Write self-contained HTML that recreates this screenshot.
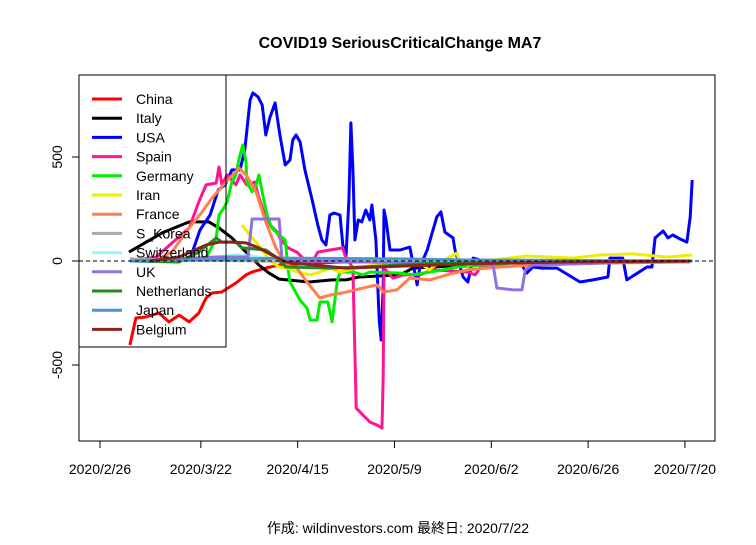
<!DOCTYPE html>
<html><head><meta charset="utf-8"><style>
body{margin:0;background:#fff;}
svg text{font-family:"Liberation Sans","Noto Sans CJK JP",sans-serif;}
</style></head><body>
<svg id="chart" width="756" height="540" xmlns="http://www.w3.org/2000/svg">
<rect width="756" height="540" fill="#fff"/>
<text x="400" y="48" text-anchor="middle" font-size="16" font-weight="bold">COVID19 SeriousCriticalChange MA7</text>
<rect x="79" y="75" width="636" height="366" fill="none" stroke="#000" stroke-width="1"/>
<g id="xaxis"></g>
<g id="yaxis"></g>
<g id="series"></g>
<g id="legend"></g>
<text x="398" y="533" text-anchor="middle" font-size="14">作成: wildinvestors.com 最終日: 2020/7/22</text>
</svg>
<script>
// x = days since 2020/2/26, y = value
const xTickLabels = ["2020/2/26","2020/3/22","2020/4/15","2020/5/9","2020/6/2","2020/6/26","2020/7/20"];
const xTickDays = [0,25,49,73,97,121,145];
const yTickValues = [-500,0,500];
const seriesNames = ["China","Italy","USA","Spain","Germany","Iran","France","S_Korea","Switzerland","UK","Netherlands","Japan","Belgium"];
const seriesColors = ["#ff0000","#000000","#0000ff","#ff1493","#00ee00","#eeee00","#ff7f50","#a9a9a9","#98f5ff","#9370db","#228b22","#4f94cd","#8b2323"];
const chinaDays=[7.4,8.9,11.4,14.6,17.1,19.6,22.1,24.5,26.3,27.8,30.2,33.7,36.2,37.7,41.1,44.4,49.6,59.5,146.8];
const chinaVals=[-404,-274,-269,-250,-293,-260,-293,-250,-178,-154,-149,-106,-67,-53,-34,-19,-14,-5,0];
const italyDays=[7.2,15.4,22.1,27,29.5,32.7,36.2,39.4,41.9,44.4,51.8,57.5,61,64.2,74.4,77.6,82.5,91,99.2,146.8];
const italyVals=[43,135,188,188,159,111,43,-19,-58,-87,-101,-91,-91,-77,-67,-34,-29,-19,-10,0];
const usaDays=[7.4,22.3,24.8,27.3,29.3,31,32.7,34.7,35.9,37.2,37.9,39.2,40.2,41.1,42.1,43.4,44.6,45.9,47.1,47.8,48.6,49.6,50.8,52.6,54,55,56,57,58,59.5,60.2,61,61.7,62.2,62.7,63.2,64,64.9,65.9,66.9,67.4,68.4,69.2,69.7,70.2,70.4,70.9,71.9,74.4,76.8,77.6,78.6,79.3,81.1,83.5,84.5,85.5,87.5,88,90,91.2,92.5,94.2,99.2,104.1,105.8,107.3,109.6,113.3,119,122.2,125.9,126.4,129.6,130.6,135.6,136.8,137.6,139.6,140.8,142,143.8,145.5,146.3,146.8];
const usaVals=[0,10,149,221,342,366,438,438,534,774,808,789,750,606,688,760,606,462,486,582,606,572,438,293,173,101,77,221,231,221,77,29,293,664,438,101,197,188,245,197,269,101,-284,-380,-115,245,197,53,53,67,-10,-115,-29,53,212,236,139,111,53,-77,-101,14,5,0,-5,-58,-29,-34,-34,-101,-91,-77,14,14,-91,-29,-29,111,144,111,125,106,91,212,390];
const spainDays=[7.4,13.9,22.1,24.5,26.3,28.8,29.5,30.2,31.5,33.7,34.7,36.4,38.4,39.2,41.4,43.9,44.6,46.6,48.8,50.3,52.6,54,57,60.2,60.7,62.7,63.5,65.2,66.9,68.7,69.9,70.2,70.4,72.6,75.1,79.3,82.5,91,93,94.2,97.4,104,146.8];
const spainVals=[0,19,159,284,366,375,452,366,414,366,414,366,380,317,188,139,111,63,43,14,-5,43,53,63,29,-34,-707,-741,-774,-789,-803,-548,-34,-82,-67,-67,-43,-53,-67,-34,-19,-5,0];
const germanyDays=[7.4,24.8,26.3,28.8,29.5,30.7,31.5,32.7,33.7,34.5,35.4,36.2,36.4,37.7,38.7,39.4,40.2,41.4,42.6,44.4,45.9,46.6,47.1,49.6,51.3,52.1,53.8,54.5,56.5,57.5,58.8,59.5,62.7,65.2,66.9,74.4,77.6,80.1,85,88.5,94.9,101.6,107.3,146.8];
const germanyVals=[0,5,14,111,221,255,284,380,414,495,558,476,380,332,366,414,332,221,159,125,101,-34,-101,-188,-226,-284,-284,-197,-197,-293,-101,-53,-53,-67,-53,-58,-67,-58,-43,-29,-19,-10,-5,0];
const iranDays=[35.2,37.7,39.9,41.9,44.4,46.6,48.8,52.1,54.5,57,59.5,63.7,74.4,79.3,81.6,84.3,88.5,89,91,97.4,105.8,117.3,123.9,132.1,140.6,146.8];
const iranVals=[173,111,63,5,-29,-34,-53,-67,-53,-34,-53,-34,5,-10,-43,-5,38,0,-19,5,24,14,29,34,19,29];
const franceDays=[7.4,13.9,17.8,22.1,25.3,27.8,31.2,34.5,36.2,38.7,41.1,43.6,46.1,48.8,51.3,54.5,57,61.2,65.2,68.7,70.2,73.6,76.8,81.8,86,91,99.2,107.3,123.9,146.3];
const franceVals=[0,5,43,159,236,303,380,447,414,332,188,63,-19,-34,-101,-178,-164,-149,-130,-115,-149,-139,-82,-91,-67,-43,-29,-19,-10,-5];
const skoreaDays=[7.4,20,40,146.8];
const skoreaVals=[10,5,0,0];
const swissDays=[7.4,25,33,37,45,60,146.8];
const swissVals=[0,10,29,24,5,0,0];
const ukDays=[7.4,28.8,36.7,37.7,44.4,45.1,49.6,97.4,98.4,102.4,104.6,105.4,107.3,123.9,146.8];
const ukVals=[0,19,19,202,202,14,0,-14,-130,-139,-139,-43,-19,-10,0];
const nethDays=[7.4,19.6,24.5,28.8,30.2,33.7,35.2,41.1,43.6,46.1,57,65.2,79.3,99.2,146.8];
const nethVals=[0,-5,43,111,91,91,63,53,19,-29,-34,-29,-14,-5,0];
const japanDays=[7.4,24.8,44.6,74.4,91.7,146.8];
const japanVals=[0,5,14,10,5,0];
const belgiumDays=[12.4,19.6,26.3,29.5,32.7,36.2,39.4,42.6,46.1,52.6,61,69.2,82.5,99.2,115.8,146.3];
const belgiumVals=[0,19,77,91,91,87,63,29,-5,-19,-34,-29,-19,-10,-5,0];
const allDays=[chinaDays,italyDays,usaDays,spainDays,germanyDays,iranDays,franceDays,skoreaDays,swissDays,ukDays,nethDays,japanDays,belgiumDays];
const allVals=[chinaVals,italyVals,usaVals,spainVals,germanyVals,iranVals,franceVals,skoreaVals,swissVals,ukVals,nethVals,japanVals,belgiumVals];

const NS="http://www.w3.org/2000/svg";
function xS(d){return 100+d*4.034;}
function yS(v){return 261-v*0.208;}
function mk(tag,attrs,parent){const e=document.createElementNS(NS,tag);for(const k in attrs)e.setAttribute(k,attrs[k]);parent.appendChild(e);return e;}

const xa=document.getElementById('xaxis');
let ax=mk('line',{x1:xS(xTickDays[0]),x2:xS(xTickDays[xTickDays.length-1]),y1:441,y2:441,stroke:'#000'},xa);


xTickDays.forEach((d,i)=>{
  const t=mk('line',{x1:xS(d),x2:xS(d),y1:441,y2:448,stroke:'#000'},xa);
  
  
  const l=mk('text',{x:xS(d),y:474,'text-anchor':'middle','font-size':14},xa);
  l.textContent=xTickLabels[i];
  
  
});
const ya=document.getElementById('yaxis');
let ay=mk('line',{x1:79,x2:79,y1:yS(500),y2:yS(-500),stroke:'#000'},ya);


yTickValues.forEach(v=>{
  const t=mk('line',{x1:72,x2:79,y1:yS(v),y2:yS(v),stroke:'#000'},ya);
  
  
  const l=mk('text',{x:0,y:0,'text-anchor':'middle','font-size':14,transform:`translate(62,${yS(v)}) rotate(-90)`},ya);
  l.textContent=String(v);
  
  
});
const sg=document.getElementById('series');
allDays.forEach((days,i)=>{
  const vals=allVals[i];
  const pts=days.map((d,j)=>xS(d).toFixed(1)+','+yS(vals[j]).toFixed(1)).join(' ');
  const p=mk('polyline',{points:pts,fill:'none',stroke:seriesColors[i],'stroke-width':3,'stroke-linejoin':'round'},sg);
  
  
});
const zl=mk('line',{x1:79,x2:715,y1:yS(0),y2:yS(0),stroke:'#000','stroke-dasharray':'4,3','stroke-width':1},sg);


const lg=document.getElementById('legend');
const box=mk('rect',{x:79,y:75,width:147,height:272,fill:'none',stroke:'#000'},lg);


seriesNames.forEach((n,i)=>{
  const y=99+i*19.2;
  const g=mk('g',{},lg);
  
  
  mk('line',{x1:92,x2:122,y1:y,y2:y,stroke:seriesColors[i],'stroke-width':3},g);
  const t=mk('text',{x:136,y:y+5,'font-size':14},g);
  t.textContent=n.replace('_','. ').replace('S. Korea','S_Korea');
});
</script>
</body></html>
